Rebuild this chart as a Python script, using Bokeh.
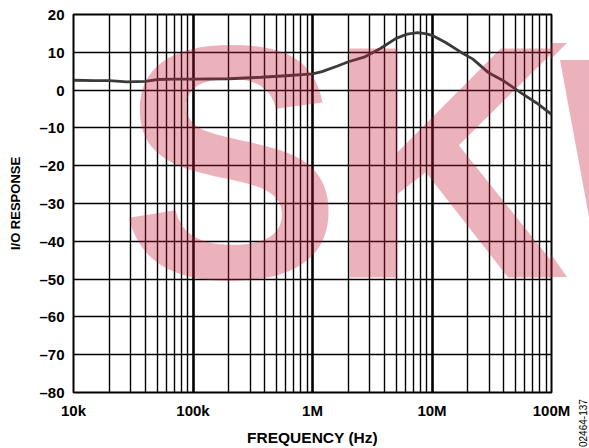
import numpy as np
from bokeh.plotting import figure
from bokeh.models import FixedTicker, Label, Div
from bokeh.layouts import row
from bokeh.embed import file_html
from bokeh.resources import INLINE

# ---- data ----
freq_hz = [1e4, 1.5e4, 2e4, 2.8e4, 4e4, 5e4, 7e4, 1e5, 2e5, 3.7e5, 6e5, 1e6, 1.2e6,
           1.6e6, 2e6, 2.7e6, 3.7e6, 5e6, 6.2e6, 7.6e6, 9e6, 1e7, 1.3e7, 1.73e7,
           2.2e7, 3e7, 4e7, 5.6e7, 7.5e7, 1e8]
response = [2.6, 2.5, 2.5, 2.2, 2.3, 2.8, 2.9, 2.9, 3.0, 3.4, 3.8, 4.3, 4.9,
            6.3, 7.5, 8.7, 11.0, 13.7, 14.8, 15.2, 14.9, 14.5, 12.6, 10.1,
            8.2, 4.5, 2.4, -0.8, -3.4, -6.4]

x_ticks = [1e4, 1e5, 1e6, 1e7, 1e8]
x_labels = ["10k", "100k", "1M", "10M", "100M"]
y_ticks = [20, 10, 0, -10, -20, -30, -40, -50, -60, -70, -80]
y_labels = ["20", "10", "0", "–10", "–20", "–30", "–40", "–50", "–60", "–70", "–80"]
x_minor = [m * d for d in [1e4, 1e5, 1e6, 1e7] for m in range(2, 10)]
figure_id = "02464-137"

FONT = "Liberation Sans"
PINK = "#c81e3c"
PINK_ALPHA = 0.34

p = figure(width=573, height=448, x_axis_type="log",
           x_range=(1e4, 1e8), y_range=(-80, 20),
           output_backend="svg", toolbar_location=None,
           min_border_left=73, min_border_right=22,
           min_border_top=14, min_border_bottom=52)
p.background_fill_color = "white"
p.border_fill_color = "white"
p.outline_line_color = "black"
p.outline_line_width = 2

# grids
p.xgrid.ticker = FixedTicker(ticks=x_ticks, minor_ticks=x_minor)
p.xgrid.grid_line_color = "black"
p.xgrid.grid_line_width = 2.6
p.xgrid.grid_line_alpha = 1
p.xgrid.minor_grid_line_color = "black"
p.xgrid.minor_grid_line_width = 1.4
p.ygrid.ticker = FixedTicker(ticks=y_ticks)
p.ygrid.grid_line_color = "black"
p.ygrid.grid_line_width = 1.6
p.ygrid.grid_line_alpha = 1

# axes
p.xaxis.ticker = FixedTicker(ticks=x_ticks)
p.xaxis.major_label_overrides = dict(zip(x_ticks, x_labels))
p.yaxis.ticker = FixedTicker(ticks=y_ticks)
p.yaxis.major_label_overrides = dict(zip(y_ticks, y_labels))
for ax in (p.xaxis, p.yaxis):
    ax.axis_line_color = None
    ax.major_tick_line_color = None
    ax.minor_tick_line_color = None
    ax.major_tick_out = 0
    ax.major_tick_in = 0
    ax.major_label_text_font = FONT
    ax.major_label_text_font_style = "bold"
    ax.major_label_text_font_size = "15px"
    ax.major_label_text_color = "black"
    ax.axis_label_text_font = FONT
    ax.axis_label_text_font_style = "bold"
    ax.axis_label_text_color = "black"
p.xaxis.axis_label_text_font_size = "15.5px"
p.yaxis.axis_label_text_font_size = "13px"
p.xaxis.axis_label = "FREQUENCY (Hz)"
p.yaxis.axis_label = "I/O RESPONSE"
p.xaxis.major_label_standoff = 9
p.xaxis.axis_label_standoff = 7
p.yaxis.major_label_standoff = 9
p.yaxis.axis_label_standoff = 13

# curve
p.line(freq_hz, response, line_color="#3a3a3a", line_width=2.8)

# watermark letters (canvas pixel placement, decoration only)
for letter, cx in (("S", 230), ("K", 447)):
    p.add_layout(Label(x=cx, y=162, x_units="canvas", y_units="canvas",
                       text=letter,
                       text_font=FONT, text_font_style="bold",
                       text_font_size="333px", text_align="center",
                       text_baseline="alphabetic",
                       text_color=PINK, text_alpha=PINK_ALPHA))

# strip at the right edge: watermark overflow beyond the frame and figure id
def shape(points):
    poly = ", ".join(f"{a}px {b}px" for a, b in points)
    return ('<div style="position:absolute;left:0;top:0;width:54px;height:448px;'
            f'background:rgba(200,30,60,{PINK_ALPHA});clip-path:polygon({poly});"></div>')

strip_html = (
    '<div style="position:relative;width:54px;height:448px;overflow:hidden;">'
    + shape([(16, 43), (32, 43), (16, 59)])
    + shape([(16, 254), (32, 277), (16, 277)])
    + shape([(25, 60), (54, 60), (54, 217)])
    + '<div style="position:absolute;left:44px;top:447px;transform:rotate(-90deg);'
      "transform-origin:0 0;font:10px 'Liberation Sans',Arial,sans-serif;"
      f'line-height:10px;white-space:nowrap;color:#000;">{figure_id}</div>'
    + '</div>'
)
strip = Div(text=strip_html, width=54, height=448, margin=(0, 0, 0, -38))

layout = row(p, strip)
open("out.html", "w").write(file_html(layout, INLINE))
